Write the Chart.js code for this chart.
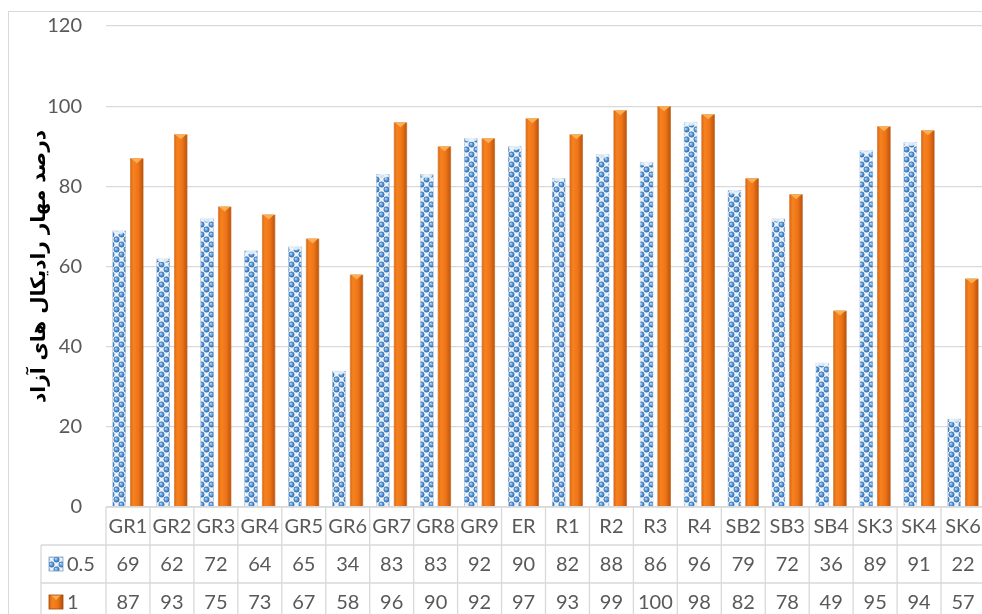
<!DOCTYPE html>
<html>
<head>
<meta charset="utf-8">
<script src="https://cdn.jsdelivr.net/npm/chart.js@4.4.1/dist/chart.umd.min.js"></script>
<style>
html, body { margin: 0; padding: 0; background: #fff; overflow: hidden; width: 982px; height: 614px; }
#marco { position: absolute; left: 8px; top: 11px; width: 1000px; height: 620px; border: 1px solid #d9d9d9; }
canvas { display: block; }
</style>
</head>
<body>
<div id="marco"><canvas id="grafico" width="1000" height="620"></canvas></div>
<script>
// --- 1. DATOS ---
const categorias = ['GR1', 'GR2', 'GR3', 'GR4', 'GR5', 'GR6', 'GR7', 'GR8', 'GR9', 'ER',
                    'R1', 'R2', 'R3', 'R4', 'SB2', 'SB3', 'SB4', 'SK3', 'SK4', 'SK6'];
const nombresSeries = ['0.5', '1'];
const valores05 = [69, 62, 72, 64, 65, 34, 83, 83, 92, 90, 82, 88, 86, 96, 79, 72, 36, 89, 91, 22];
const valores1 = [87, 93, 75, 73, 67, 58, 96, 90, 92, 97, 93, 99, 100, 98, 82, 78, 49, 95, 94, 57];
const ticksY = [0, 20, 40, 60, 80, 100, 120];
const tituloY = 'درصد مهار رادیکال های آزاد';

const GRIS = '#d9d9d9';
const TEXTO = '#595959';
const FUENTE = 'Lato, "Liberation Sans", sans-serif';

// --- 2. FUNCIONES DE APOYO ---
function crearPatronAzul(ctx) {
    const t = 10;
    const c = document.createElement('canvas');
    c.width = t; c.height = t;
    const g = c.getContext('2d');
    g.fillStyle = '#eaf3fc';
    g.fillRect(0, 0, t, t);
    const h = t / 2;
    const puntos = [[h / 2, h / 2], [h + h / 2, h + h / 2], [h / 2 - t, h + h / 2], [h + h / 2, h / 2 - t],
                    [h / 2 + t, h / 2], [h / 2, h / 2 + t], [h + h / 2 - t, h + h / 2], [h + h / 2, h + h / 2 - t]];
    puntos.forEach(([px, py]) => {
        const rg = g.createRadialGradient(px - 0.8, py - 0.8, 0.3, px, py, 3);
        rg.addColorStop(0, '#b4d4f2');
        rg.addColorStop(0.55, '#4f8fd3');
        rg.addColorStop(1, '#2c65a3');
        g.fillStyle = rg;
        g.beginPath();
        g.arc(px, py, 2.9, 0, Math.PI * 2);
        g.fill();
    });
    return ctx.createPattern(c, 'repeat');
}

function gradienteNaranja(ctx, x0, x1) {
    const gr = ctx.createLinearGradient(x0, 0, x1, 0);
    gr.addColorStop(0, '#d8640f');
    gr.addColorStop(0.25, '#f6821f');
    gr.addColorStop(0.6, '#ef7518');
    gr.addColorStop(1, '#b5500a');
    return gr;
}

// --- 3. PLUGINS ---
// Degradado de las barras naranjas y remate superior
const barrasPlugin = {
    id: 'barrasEstilo',
    beforeDatasetsDraw(chart) {
        const ctx = chart.ctx;
        chart.getDatasetMeta(1).data.forEach(bar => {
            bar.options.backgroundColor = gradienteNaranja(ctx, bar.x - bar.width / 2, bar.x + bar.width / 2);
        });
    },
    afterDatasetsDraw(chart) {
        const ctx = chart.ctx;
        ctx.save();
        chart.getDatasetMeta(1).data.forEach(bar => {
            const w = bar.width / 2;
            ctx.fillStyle = '#fcae55';
            ctx.beginPath();
            ctx.moveTo(bar.x - w + 1, bar.y);
            ctx.lineTo(bar.x + w - 1, bar.y);
            ctx.lineTo(bar.x, bar.y + 5);
            ctx.closePath();
            ctx.fill();
        });
        chart.getDatasetMeta(0).data.forEach(bar => {
            const w = bar.width / 2;
            ctx.fillStyle = 'rgba(235,244,252,0.85)';
            ctx.beginPath();
            ctx.ellipse(bar.x, bar.y + 1.5, w - 1, 2, 0, 0, Math.PI * 2);
            ctx.fill();
        });
        ctx.restore();
    }
};

// Tabla de datos bajo el gráfico
const tablaPlugin = {
    id: 'tablaDatos',
    afterDraw(chart) {
        const { ctx, chartArea, scales: { x } } = chart;
        const alto = 38;
        const y0 = chartArea.bottom;
        const paso = x.getPixelForValue(1) - x.getPixelForValue(0);
        const izq = x.getPixelForValue(0) - paso / 2;
        const der = x.getPixelForValue(categorias.length - 1) + paso / 2;
        const colIzq = 32;
        const fondo = y0 + alto * 3 + 4;

        ctx.save();
        ctx.strokeStyle = GRIS;
        ctx.lineWidth = 1.3;
        ctx.beginPath();
        ctx.moveTo(izq, y0); ctx.lineTo(der, y0);
        ctx.moveTo(colIzq, y0 + alto); ctx.lineTo(der, y0 + alto);
        ctx.moveTo(colIzq, y0 + alto * 2); ctx.lineTo(der, y0 + alto * 2);
        ctx.moveTo(colIzq, y0 + alto); ctx.lineTo(colIzq, fondo);
        for (let i = 0; i <= categorias.length; i++) {
            const vx = izq + i * paso;
            ctx.moveTo(vx, y0); ctx.lineTo(vx, fondo);
        }
        ctx.stroke();

        ctx.fillStyle = TEXTO;
        ctx.font = '20px ' + FUENTE;
        ctx.textAlign = 'center';
        ctx.textBaseline = 'middle';
        const filas = [valores05, valores1];
        categorias.forEach((cat, i) => {
            const cx = x.getPixelForValue(i);
            ctx.fillText(cat, cx, y0 + alto / 2 + 1);
            filas.forEach((fila, f) => {
                ctx.fillText(String(fila[i]), cx, y0 + alto * (f + 1) + alto / 2 + 1);
            });
        });

        // leyenda en la columna izquierda
        nombresSeries.forEach((nombre, f) => {
            const cy = y0 + alto * (f + 1) + alto / 2;
            const kx = 40, ks = 14;
            if (f === 0) {
                ctx.fillStyle = chart.data.datasets[0].backgroundColor;
                ctx.fillRect(kx, cy - ks / 2, ks, ks);
                ctx.strokeStyle = '#7f9fbf';
            } else {
                ctx.fillStyle = gradienteNaranja(ctx, kx, kx + ks);
                ctx.fillRect(kx, cy - ks / 2, ks, ks);
                ctx.fillStyle = '#fcae55';
                ctx.beginPath();
                ctx.moveTo(kx + 2, cy - ks / 2); ctx.lineTo(kx + ks - 2, cy - ks / 2); ctx.lineTo(kx + ks / 2, cy - 2);
                ctx.fill();
                ctx.strokeStyle = '#a04808';
            }
            ctx.lineWidth = 0.8;
            ctx.strokeRect(kx, cy - ks / 2, ks, ks);
            ctx.fillStyle = TEXTO;
            ctx.textAlign = 'left';
            ctx.fillText(nombre, kx + ks + 4, cy + 1);
        });
        ctx.restore();
    }
};

// --- 4. GRÁFICO ---
const lienzo = document.getElementById('grafico');
const patronAzul = crearPatronAzul(lienzo.getContext('2d'));

new Chart(lienzo, {
    type: 'bar',
    data: {
        labels: categorias,
        datasets: [
            {
                label: nombresSeries[0],
                data: valores05,
                backgroundColor: patronAzul,
                borderColor: '#8aa6c4',
                borderWidth: 0.6
            },
            {
                label: nombresSeries[1],
                data: valores1,
                backgroundColor: () => '#ef7518',
                borderColor: '#b5500a',
                borderWidth: 0.6
            }
        ]
    },
    options: {
        responsive: false,
        animation: false,
        layout: { padding: { top: 14, right: 24, left: 0, bottom: 0 } },
        categoryPercentage: 0.8,
        barPercentage: 0.78,
        plugins: {
            legend: { display: false },
            tooltip: { enabled: false }
        },
        scales: {
            x: {
                ticks: { display: false },
                grid: { display: false },
                border: { display: false },
                afterFit: s => { s.height = 125; }
            },
            y: {
                min: 0,
                max: 120,
                afterBuildTicks: s => { s.ticks = ticksY.map(v => ({ value: v })); },
                afterFit: s => { s.width = 97; s.paddingTop = 0; s.paddingBottom = 0; },
                ticks: {
                    color: TEXTO,
                    font: { family: FUENTE, size: 20 },
                    padding: 24
                },
                grid: { color: GRIS, lineWidth: 1.3, drawTicks: false },
                border: { display: false },
                title: {
                    display: true,
                    text: tituloY,
                    color: '#000',
                    font: { family: '"DejaVu Sans", "Noto Sans", sans-serif', size: 20, weight: 'bold' },
                    padding: { top: 19, bottom: 0 }
                }
            }
        }
    },
    plugins: [barrasPlugin, tablaPlugin]
});
</script>
</body>
</html>
